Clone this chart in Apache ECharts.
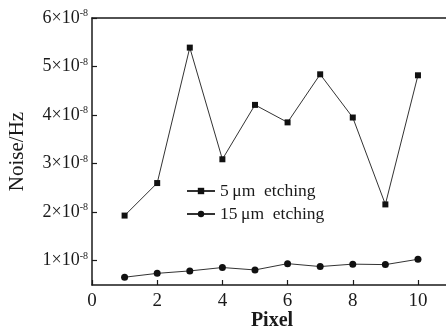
<!DOCTYPE html>
<html>
<head>
<meta charset="utf-8">
<script src="https://cdn.jsdelivr.net/npm/echarts@6/dist/echarts.min.js"></script>
<style>html,body{margin:0;padding:0;background:#fff}#c{width:446px;height:329px}</style>
</head>
<body>
<div id="c"></div>
<script>
// Values in units of 1e-8 Hz^-1
const pixels = [1, 2, 3, 4, 5, 6, 7, 8, 9, 10];
const noise5um = [1.93, 2.60, 5.39, 3.09, 4.21, 3.85, 4.84, 3.95, 2.16, 4.82];
const noise15um = [0.66, 0.74, 0.79, 0.86, 0.81, 0.94, 0.88, 0.93, 0.92, 1.03];
const yTicks = [1, 2, 3, 4, 5, 6];
const xTicks = [0, 2, 4, 6, 8, 10];
const seriesNames = ['5\u2009μm  etching', '15\u2009μm  etching'];

const FONT = '"Liberation Serif", "DejaVu Serif", serif';
const INK = '#1a1a1a';
const chart = echarts.init(document.getElementById('c'));
chart.setOption({
  animation: false,
  backgroundColor: '#fff',
  grid: { left: 92, right: 0, top: 18, bottom: 44, containLabel: false, outerBoundsMode: 'none' },
  xAxis: [{
    type: 'value', min: 0, max: 10.86,
    name: 'Pixel', nameLocation: 'middle', nameGap: 26, nameMoveOverlap: false,
    nameTextStyle: { fontFamily: FONT, fontSize: 20, fontWeight: 'bold', color: INK, padding: [0, 0, 0, 6] },
    axisLine: { lineStyle: { color: INK, width: 1.5 } },
    axisTick: { inside: true, length: 5, customValues: xTicks, lineStyle: { color: INK, width: 1.2 } },
    axisLabel: { customValues: xTicks, fontFamily: FONT, fontSize: 19, color: INK, margin: 7 },
    splitLine: { show: false }
  }, {
    type: 'value', min: 0, max: 10.86, position: 'top',
    axisLine: { show: true, lineStyle: { color: INK, width: 1.5 } },
    axisTick: { show: false }, axisLabel: { show: false }, splitLine: { show: false }
  }],
  yAxis: {
    type: 'value', min: 0.5, max: 6,
    name: 'Noise/Hz', nameLocation: 'middle', nameGap: 64, nameMoveOverlap: false,
    nameTextStyle: { fontFamily: FONT, fontSize: 21, color: INK },
    axisLine: { lineStyle: { color: INK, width: 1.5 } },
    axisTick: { inside: true, length: 5, customValues: yTicks, lineStyle: { color: INK, width: 1.2 } },
    axisLabel: {
      customValues: yTicks, margin: 4, color: INK,
      formatter: v => '{a|' + v + '×10}{s|-8}',
      rich: {
        a: { fontFamily: FONT, fontSize: 18, color: INK },
        s: { fontFamily: FONT, fontSize: 10, color: INK, padding: [0, 0, 9, 0] }
      }
    },
    splitLine: { show: false }
  },
  legend: {
    orient: 'vertical', left: 181, top: 177, itemGap: 5, itemWidth: 28, itemHeight: 8,
    textStyle: { fontFamily: FONT, fontSize: 17.5, color: INK },
    data: seriesNames
  },
  series: [
    {
      name: seriesNames[0], type: 'line', symbol: 'rect', symbolSize: 6,
      data: pixels.map((p, i) => [p, noise5um[i]]),
      lineStyle: { color: '#333', width: 1 }, itemStyle: { color: '#111' }
    },
    {
      name: seriesNames[1], type: 'line', symbol: 'circle', symbolSize: 7,
      data: pixels.map((p, i) => [p, noise15um[i]]),
      lineStyle: { color: '#333', width: 1 }, itemStyle: { color: '#111' }
    }
  ]
});
</script>
</body>
</html>
